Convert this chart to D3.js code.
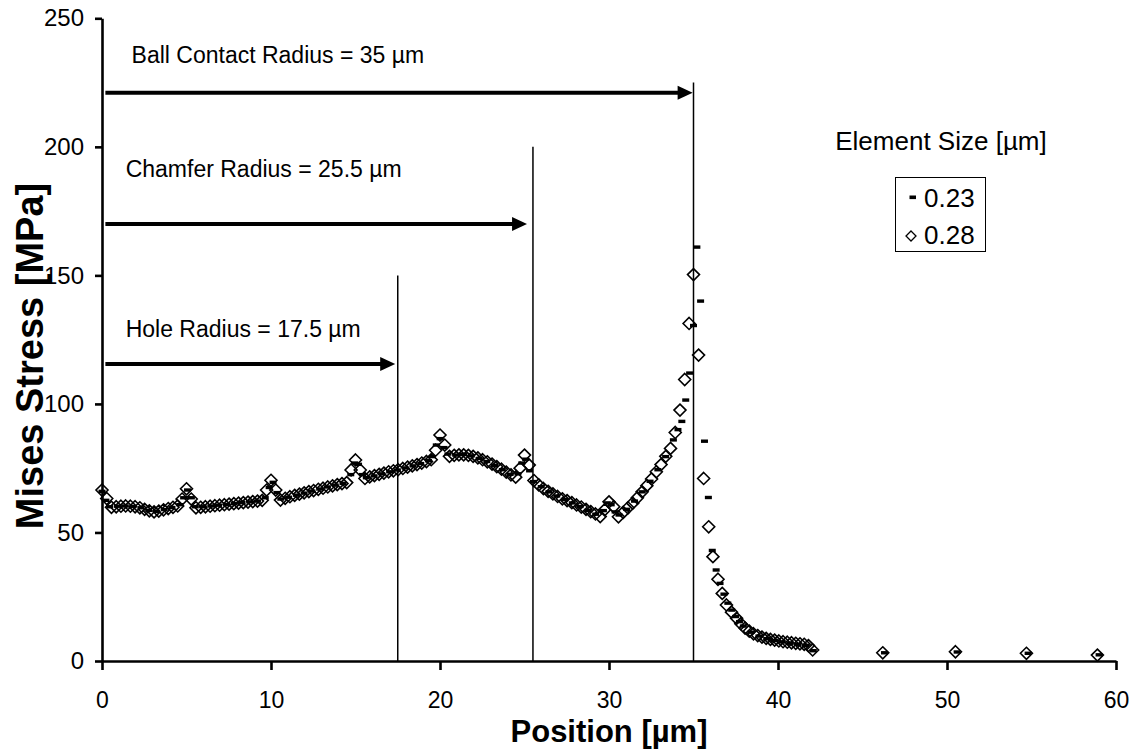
<!DOCTYPE html>
<html>
<head>
<meta charset="utf-8">
<script src="https://cdn.jsdelivr.net/npm/d3@7"></script>
<style>
  html, body { margin: 0; padding: 0; background: #fff; }
  svg { display: block; }
  text { font-family: "Liberation Sans", Arial, sans-serif; fill: #000; }
</style>
</head>
<body>
<svg id="chart" width="1138" height="752"></svg>
<script>
// ---------- DATA ----------
const xTicks = [0, 10, 20, 30, 40, 50, 60];
const yTicks = [0, 50, 100, 150, 200, 250];
const seriesNames = ["0.23", "0.28"];

// Element size 0.23 µm (dash markers): [position µm, Mises stress MPa]
const series023 = [
  [0,66.0],[0.23,62.5],[0.46,60.0],[0.92,60.2],[1.38,60.3],[1.84,60.1],[2.3,59.6],[2.76,58.6],[3.22,58.2],[3.68,58.9],[4.14,59.7],[4.6,60.8],[4.83,63.5],[5.06,66.5],[5.29,63.5],[5.52,60.0],
  [5.98,60.0],[6.44,60.3],[6.9,60.6],[7.36,60.9],[7.82,61.2],[8.28,61.6],[8.74,61.9],[9.2,62.2],[9.66,63.5],[9.89,67.5],[10.12,69.5],[10.35,65.5],[10.58,63.0],
  [11.04,63.7],[11.5,64.5],[11.96,65.3],[12.42,66.1],[12.88,66.9],[13.34,67.7],[13.8,68.4],[14.26,69.1],[14.72,72.5],[14.95,77.0],[15.18,76.5],[15.41,72.5],[15.64,71.3],
  [16.1,72.0],[16.56,72.8],[17.02,73.6],[17.48,74.3],[17.94,75.1],[18.4,75.9],[18.86,76.8],[19.32,77.9],[19.55,79.5],[19.78,84.0],[20.01,86.5],[20.24,83.0],[20.47,80.5],
  [20.93,80.1],[21.39,80.3],[21.85,79.8],[22.31,78.8],[22.77,77.6],[23.23,76.1],[23.69,74.4],[24.15,72.6],[24.61,72.8],[24.84,77.0],[25.07,78.5],[25.3,74.0],[25.53,69.8],
  [25.99,67.8],[26.45,65.8],[26.91,64.2],[27.37,62.8],[27.83,61.5],[28.29,60.1],[28.75,58.6],[29.21,57.1],[29.67,58.5],[29.9,61.5],[30.13,60.8],[30.36,58.0],[30.59,56.8],
  [31.05,59.0],[31.51,62.2],[31.97,65.8],[32.43,69.9],[32.89,74.4],[33.35,79.5],[33.81,86.0],[34.08,90.0],[34.31,93.2],[34.54,101.5],[34.77,112.0],[35.0,130.5],[35.2,161.0],[35.42,140.0],[35.65,85.5],[35.88,63.6],
  [36.11,43.0],[36.34,35.4],[36.57,30.2],[36.8,26.0],[37.03,22.5],[37.26,19.8],[37.49,17.3],[37.72,15.3],[37.95,13.6],[38.41,11.2],[38.87,9.7],[39.33,8.7],[39.79,8.0],[40.25,7.4],[40.71,6.9],[41.17,6.5],[41.63,6.1],[42.09,4.0],
  [46.3,3.2],[50.6,3.5],[54.8,3.0],[59.0,2.4]
];

// Element size 0.28 µm (diamond markers): [position µm, Mises stress MPa]
const series028 = [
  [0,66.5],[0.28,63.2],[0.56,59.8],[0.84,60.0],[1.12,60.2],[1.4,60.3],[1.68,60.2],[1.96,60.0],[2.24,59.6],[2.52,59.0],[2.8,58.4],[3.08,58.0],[3.36,58.3],[3.64,58.8],[3.92,59.3],[4.2,59.8],[4.48,60.3],[4.74,63.0],[5.0,67.0],
  [5.28,63.0],[5.56,59.6],[5.84,59.8],[6.12,60.0],[6.4,60.2],[6.68,60.4],[6.96,60.6],[7.24,60.8],[7.52,61.0],[7.8,61.2],[8.08,61.4],[8.36,61.6],[8.64,61.8],[8.92,62.0],[9.2,62.2],[9.48,62.5],[9.74,66.5],[10.0,70.3],
  [10.28,66.5],[10.56,62.6],[10.84,63.3],[11.12,63.9],[11.4,64.4],[11.68,64.9],[11.96,65.4],[12.24,65.9],[12.52,66.3],[12.8,66.8],[13.08,67.2],[13.36,67.7],[13.64,68.1],[13.92,68.6],[14.2,69.0],[14.48,69.4],[14.74,74.3],[15.0,78.2],
  [15.28,74.3],[15.56,71.0],[15.84,71.6],[16.12,72.1],[16.4,72.6],[16.68,73.1],[16.96,73.6],[17.24,74.0],[17.52,74.4],[17.8,74.9],[18.08,75.4],[18.36,75.9],[18.64,76.4],[18.92,77.0],[19.2,77.6],[19.48,78.3],[19.74,82.0],[20.0,87.9],
  [20.28,84.0],[20.56,79.6],[20.84,80.0],[21.12,80.2],[21.4,80.2],[21.68,80.0],[21.96,79.6],[22.24,79.0],[22.52,78.3],[22.8,77.5],[23.08,76.6],[23.36,75.6],[23.64,74.6],[23.92,73.5],[24.2,72.4],[24.48,71.5],[24.74,75.0],[25.0,80.1],
  [25.28,76.2],[25.56,70.2],[25.84,68.5],[26.12,67.1],[26.4,66.0],[26.68,65.0],[26.96,64.0],[27.24,63.1],[27.52,62.4],[27.8,61.6],[28.08,60.7],[28.36,59.9],[28.64,59.0],[28.92,58.1],[29.2,57.2],[29.48,56.2],[29.74,58.8],[30.0,61.9],
  [30.28,60.0],[30.56,56.1],[30.84,57.8],[31.12,59.6],[31.4,61.4],[31.68,63.5],[31.96,65.8],[32.24,68.2],[32.52,70.8],[32.8,73.6],[33.08,76.4],[33.36,79.6],[33.64,82.7],[33.92,88.9],[34.2,97.6],[34.48,109.5],[34.74,131.3],[35.0,150.3],
  [35.3,119.0],[35.6,71.0],[35.9,52.2],[36.15,40.6],[36.45,31.8],[36.7,26.3],[36.95,21.8],[37.25,19.0],[37.55,16.6],[37.8,14.5],[38.05,12.8],[38.3,11.6],[38.55,10.6],[38.8,9.9],[39.05,9.3],[39.3,8.8],[39.55,8.4],[39.8,8.1],[40.05,7.8],[40.3,7.5],[40.55,7.3],[40.8,7.1],[41.05,6.9],[41.3,6.7],[41.55,6.5],[41.8,6.0],[42.05,4.3],
  [46.2,3.2],[50.5,3.6],[54.7,3.0],[58.9,2.3]
];

// Reference radii (vertical lines): position, top value
const radiusLines = [
  { x: 17.5, top: 150 },
  { x: 25.5, top: 200 },
  { x: 35.0, top: 225 }
];
// Arrows with labels: start, end (tip), height, label, label height
const arrows = [
  { from: 0.2, to: 34.95, y: 221, label: "Ball Contact Radius = 35 µm", labelX: 1.75, labelY: 232.5 },
  { from: 0.2, to: 25.15, y: 170, label: "Chamfer Radius = 25.5 µm", labelX: 1.4, labelY: 188.3 },
  { from: 0.2, to: 17.35, y: 115.5, label: "Hole Radius = 17.5 µm", labelX: 1.4, labelY: 126.0 }
];

// ---------- CHART ----------
const svg = d3.select("#chart");
const x = d3.scaleLinear().domain([0, 60]).range([102, 1116]);
const y = d3.scaleLinear().domain([0, 250]).range([661, 18.3]);

// radius vertical lines
svg.append("g").selectAll("line").data(radiusLines).join("line")
  .attr("x1", d => x(d.x)).attr("x2", d => x(d.x))
  .attr("y1", y(0)).attr("y2", d => y(d.top))
  .attr("stroke", "#000").attr("stroke-width", 1.5);

// arrows
const ag = svg.append("g");
ag.selectAll("line").data(arrows).join("line")
  .attr("x1", d => x(d.from)).attr("x2", d => x(d.to) - 10)
  .attr("y1", d => y(d.y)).attr("y2", d => y(d.y))
  .attr("stroke", "#000").attr("stroke-width", 4);
ag.selectAll("path").data(arrows).join("path")
  .attr("d", d => {
    const tx = x(d.to), ty = y(d.y);
    return `M${tx},${ty} L${tx - 15},${ty - 7} L${tx - 15},${ty + 7} Z`;
  })
  .attr("fill", "#000");
ag.selectAll("text").data(arrows).join("text")
  .attr("x", d => x(d.labelX)).attr("y", d => y(d.labelY))
  .attr("font-size", 23).text(d => d.label);

// series markers
const diamond = "M0,-6 L6,0 L0,6 L-6,0 Z";
svg.append("g").selectAll("path").data(series028).join("path")
  .attr("d", diamond)
  .attr("transform", d => `translate(${x(d[0])},${y(d[1])})`)
  .attr("fill", "none").attr("stroke", "#000").attr("stroke-width", 1.6);

svg.append("g").selectAll("rect").data(series023).join("rect")
  .attr("x", d => x(d[0]) - 3.5).attr("y", d => y(d[1]) - 1.7)
  .attr("width", 7).attr("height", 3.4).attr("fill", "#000");

// axes
const xAxis = svg.append("g").attr("transform", `translate(0,${y(0)})`)
  .call(d3.axisBottom(x).tickValues(xTicks).tickSize(9).tickSizeOuter(0).tickPadding(22));
const yAxis = svg.append("g").attr("transform", `translate(${x(0)},0)`)
  .call(d3.axisLeft(y).tickValues(yTicks).tickSize(7).tickSizeOuter(0).tickPadding(11));
[xAxis, yAxis].forEach(g => {
  g.select(".domain").attr("stroke", "#000").attr("stroke-width", 2.6);
  g.selectAll(".tick line").attr("stroke", "#000").attr("stroke-width", 2.6);
  g.selectAll(".tick text").attr("font-size", 24).attr("fill", "#000")
    .attr("font-family", '"Liberation Sans", Arial, sans-serif');
});
xAxis.selectAll(".tick text").attr("font-size", 23).attr("dy", "0.68em");

// axis titles
svg.append("text").attr("x", 609).attr("y", 742).attr("text-anchor", "middle")
  .attr("font-size", 31).attr("font-weight", "bold").text("Position [µm]");
svg.append("text").attr("transform", "translate(43,356) rotate(-90)")
  .attr("text-anchor", "middle").attr("font-size", 38).attr("font-weight", "bold")
  .text("Mises Stress [MPa]");

// legend
const lg = svg.append("g");
lg.append("text").attr("x", 941).attr("y", 150).attr("text-anchor", "middle")
  .attr("font-size", 26).text("Element Size [µm]");
lg.append("rect").attr("x", 895.5).attr("y", 177.5).attr("width", 90).attr("height", 74)
  .attr("fill", "#fff").attr("stroke", "#000").attr("stroke-width", 1);
lg.append("rect").attr("x", 909.5).attr("y", 195.5).attr("width", 6.5).attr("height", 3.6).attr("fill", "#000");
lg.append("text").attr("x", 924).attr("y", 206.5).attr("font-size", 26).text(seriesNames[0]);
lg.append("path").attr("d", "M0,-5 L5,0 L0,5 L-5,0 Z").attr("transform", "translate(911,236)")
  .attr("fill", "none").attr("stroke", "#000").attr("stroke-width", 1.3);
lg.append("text").attr("x", 924).attr("y", 243.5).attr("font-size", 26).text(seriesNames[1]);
</script>
</body>
</html>
